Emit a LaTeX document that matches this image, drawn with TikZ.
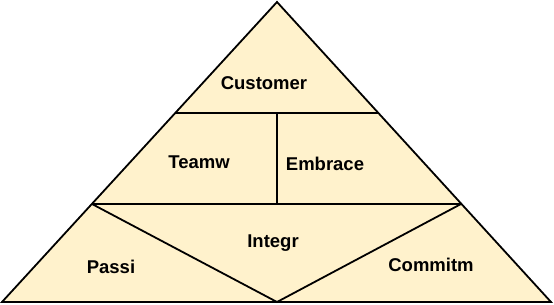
\documentclass[tikz,border=0pt]{standalone}
\usepackage{fontspec}
\setmainfont{Liberation Sans}
\definecolor{pyrfill}{RGB}{255,242,204}

\begin{document}
\begin{tikzpicture}[x=1pt, y=-1pt, line width=1.8pt]
        % Stili
        \tikzstyle{tier} = [font=\bfseries\fontsize{18.5}{20}\selectfont, inner sep=0pt]
        \tikzstyle{edge} = [draw, black]

        \useasboundingbox (0,0) rectangle (554,305);

        % Vertici
        \coordinate (top) at (277,2);
        \coordinate (bl) at (2,302);
        \coordinate (br) at (551,302);
        \coordinate (ul) at (175,113);
        \coordinate (ur) at (378,113);
        \coordinate (ll) at (92,204);
        \coordinate (lr) at (461,204);
        \coordinate (um) at (277,113);
        \coordinate (lm) at (277,204);
        \coordinate (bm) at (277,302);

        % Piramide
        \filldraw [edge, fill=pyrfill, line join=miter] (top) -- (br) -- (bl) -- cycle;
        \draw [edge] (ul) -- (ur);
        \draw [edge] (ll) -- (lr);
        \draw [edge] (um) -- (lm);
        \draw [edge] (ll) -- (bm) -- (lr);

        % Etichette
        \node [tier] (customer) at (264,83) {Customer};
        \node [tier] (teamw) at (199,162) {Teamw};
        \node [tier] (embrace) at (325,164) {Embrace};
        \node [tier] (integr) at (273,243) {Integr};
        \node [tier] (passi) at (111,267) {Passi};
        \node [tier] (commitm) at (431,265) {Commitm};

\end{tikzpicture}
\end{document}
